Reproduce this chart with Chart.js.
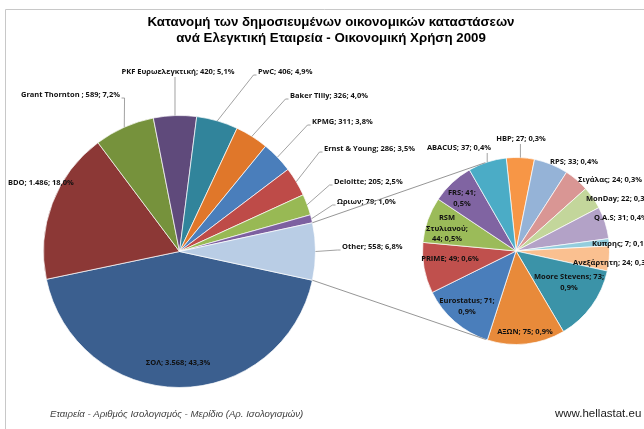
<!DOCTYPE html>
<html>
<head>
<meta charset="utf-8">
<script src="https://cdn.jsdelivr.net/npm/chart.js@4.4.1/dist/chart.umd.min.js"></script>
<style>
html,body{margin:0;padding:0;background:#fff;}
#wrap{position:relative;width:644px;height:429px;overflow:hidden;background:#fff;}
#wrap canvas{position:absolute;left:0;top:0;}
</style>
</head>
<body>
<div id="wrap"><canvas id="c1" width="644" height="429"></canvas><canvas id="c2" width="644" height="429"></canvas></div>
<script>
// ---------- DATA ----------
const titleLines = ['Κατανομή των δημοσιευμένων οικονομικών καταστάσεων', 'ανά Ελεγκτική Εταιρεία - Οικονομική Χρήση 2009'];
const footerText = 'Εταιρεία - Αριθμός Ισολογισμός - Μερίδιο (Αρ. Ισολογισμών)';
const sourceText = 'www.hellastat.eu';

const mainCategories = ['ΣΟΛ', 'BDO', 'Grant Thornton ', 'PKF Ευρωελεγκτική', 'PwC', 'Baker Tilly', 'KPMG', 'Ernst & Young', 'Deloitte', 'Ωριων', 'Other'];
const mainValues = [3568, 1486, 589, 420, 406, 326, 311, 286, 205, 79, 558];

const otherCategories = ['HBP', 'RPS', 'Σιγάλας', 'MonDay', 'Q.A.S', 'Κυπρης', 'Ανεξάρτητη', 'Moore Stevens', 'ΑΞΩΝ', 'Eurostatus', 'PRIME', 'RSM Στυλιανού', 'FRS', 'ABACUS'];
const otherValues = [27, 33, 24, 22, 31, 7, 24, 73, 75, 71, 49, 44, 41, 37];

// ---------- STYLES ----------
const mainColors = ['#3b5f8f', '#8c3836', '#76923c', '#5f4a7b', '#31849b', '#e0772a', '#4a7ebb', '#be4b48', '#98b954', '#7d60a0', '#b9cde5'];
const otherColors = ['#f79646', '#95b3d7', '#d99694', '#c3d69b', '#b3a2c7', '#93cddd', '#fac090', '#3b93a8', '#e88a3a', '#4a7ebb', '#c0504d', '#9bbb59', '#8064a2', '#4bacc6'];

// label layout (x, y of first line centre; align; wrap mode; leader type)
const mainLabelLayout = [
  {x:178, y:363, align:'center'},
  {x:8,   y:183, align:'left'},
  {x:21,  y:95,  align:'left', leader:'right'},
  {x:178, y:72,  align:'center', leader:'bottom'},
  {x:258, y:72,  align:'left', leader:'left'},
  {x:290, y:96,  align:'left', leader:'left'},
  {x:312, y:122, align:'left', leader:'left'},
  {x:324, y:149, align:'left', leader:'left'},
  {x:334, y:182, align:'left', leader:'left'},
  {x:337, y:202, align:'left', leader:'left'},
  {x:342, y:247, align:'left', leader:'left'}
];
const otherLabelLayout = [
  {x:521, y:139, align:'center', leader:'bottom'},
  {x:550, y:162, align:'left'},
  {x:578, y:180, align:'left'},
  {x:586, y:199, align:'left'},
  {x:594, y:218, align:'left'},
  {x:592, y:244, align:'left'},
  {x:573, y:263, align:'left'},
  {x:569, y:277, align:'center', wrap:'v'},
  {x:525, y:332, align:'center'},
  {x:467, y:301, align:'center', wrap:'v'},
  {x:450, y:259, align:'center'},
  {x:447, y:218, align:'center', wrap:'nv'},
  {x:462, y:193, align:'center', wrap:'v'},
  {x:459, y:148, align:'center', leader:'bottom'}
];

const LABEL_FONT = 'bold 7.5px "Open Sans", sans-serif';
const LINE_H = 10.5;
const grandTotal = mainValues.reduce((a, b) => a + b, 0);

function fmtNum(v) { return v.toLocaleString('el-GR'); }
function fmtPct(v) { return (v / grandTotal * 100).toFixed(1).replace('.', ','); }

function labelLines(name, value, wrap) {
  const v = fmtNum(value), p = fmtPct(value) + '%';
  if (wrap === 'v') return [name + '; ' + v + ';', p];
  if (wrap === 'nv') {
    const parts = name.split(' ');
    return [parts[0], parts.slice(1).join(' ') + ';', v + '; ' + p];
  }
  return [name + '; ' + v + '; ' + p];
}

function edgePoint(arc) {
  const p = arc.getProps(['x', 'y', 'startAngle', 'endAngle', 'outerRadius'], true);
  const a = (p.startAngle + p.endAngle) / 2;
  return {x: p.x + Math.cos(a) * p.outerRadius, y: p.y + Math.sin(a) * p.outerRadius};
}

function drawLabels(chart, names, values, layout) {
  const ctx = chart.ctx;
  const arcs = chart.getDatasetMeta(0).data;
  ctx.save();
  ctx.font = LABEL_FONT;
  ctx.fillStyle = '#111';
  ctx.textBaseline = 'middle';
  names.forEach((name, i) => {
    const L = layout[i];
    const lines = labelLines(name, values[i], L.wrap);
    ctx.textAlign = L.align;
    let maxW = 0;
    lines.forEach((ln, k) => {
      ctx.fillText(ln, L.x, L.y + k * LINE_H);
      maxW = Math.max(maxW, ctx.measureText(ln).width);
    });
    if (L.leader) {
      const e = edgePoint(arcs[i]);
      ctx.beginPath();
      ctx.strokeStyle = '#8a8a8a';
      ctx.lineWidth = 0.8;
      if (L.leader === 'bottom') {
        ctx.moveTo(e.x, L.y + 5);
        ctx.lineTo(e.x, e.y);
      } else if (L.leader === 'left') {
        const lx = (L.align === 'left' ? L.x : L.x - maxW / 2) - 1.5;
        ctx.moveTo(lx, L.y + 3);
        ctx.lineTo(lx - 3, L.y + 3);
        ctx.lineTo(e.x, e.y);
      } else if (L.leader === 'right') {
        const rx = (L.align === 'left' ? L.x + maxW : L.x + maxW / 2) + 1.5;
        ctx.moveTo(rx, L.y + 3);
        ctx.lineTo(rx + 3, L.y + 3);
        ctx.lineTo(e.x, e.y);
      }
      ctx.stroke();
    }
  });
  ctx.restore();
}

const framePlugin = {
  id: 'frame',
  beforeDraw(chart) {
    const ctx = chart.ctx;
    ctx.save();
    ctx.fillStyle = '#ffffff';
    ctx.fillRect(0, 0, chart.width, chart.height);
    ctx.strokeStyle = '#c8c8c8';
    ctx.lineWidth = 1;
    ctx.beginPath();
    ctx.moveTo(5.5, 429);
    ctx.lineTo(5.5, 9.5);
    ctx.lineTo(644, 9.5);
    ctx.stroke();
    // title
    ctx.fillStyle = '#000';
    ctx.textAlign = 'center';
    ctx.textBaseline = 'middle';
    ctx.font = 'bold 13.3px "Liberation Sans", Arial, sans-serif';
    ctx.fillText(titleLines[0], 331, 22);
    ctx.fillText(titleLines[1], 331, 38);
    // footer
    ctx.textAlign = 'left';
    ctx.font = 'italic 9.6px "Liberation Sans", Arial, sans-serif';
    ctx.fillStyle = '#404040';
    ctx.fillText(footerText, 50, 414);
    ctx.font = '11.5px "Liberation Sans", Arial, sans-serif';
    ctx.fillStyle = '#1a1a1a';
    ctx.fillText(sourceText, 555, 414);
    ctx.restore();
  },
  afterDraw(chart) {
    drawLabels(chart, mainCategories, mainValues, mainLabelLayout);
  }
};

const otherFraction = mainValues[mainValues.length - 1] / grandTotal;

const chart1 = new Chart(document.getElementById('c1'), {
  type: 'pie',
  data: {
    labels: mainCategories,
    datasets: [{data: mainValues, backgroundColor: mainColors, borderColor: 'rgba(255,255,255,0.7)', borderWidth: 1}]
  },
  options: {
    responsive: false,
    animation: false,
    rotation: 90 + otherFraction * 180,
    layout: {padding: {left: 43, top: 115, right: 328, bottom: 41}},
    plugins: {legend: {display: false}, tooltip: {enabled: false}, title: {display: false}},
    events: []
  },
  plugins: [framePlugin]
});

const seriesLinesPlugin = {
  id: 'seriesLines',
  afterDraw(chart) {
    drawLabels(chart, otherCategories, otherValues, otherLabelLayout);
    const ctx = chart.ctx;
    const mArcs = chart1.getDatasetMeta(0).data;
    const oArc = mArcs[mArcs.length - 1].getProps(['x', 'y', 'startAngle', 'endAngle', 'outerRadius'], true);
    const c2 = chart.getDatasetMeta(0).data[0].getProps(['x', 'y', 'outerRadius'], true);
    const pts = [oArc.startAngle, oArc.endAngle].map(a => ({x: oArc.x + Math.cos(a) * oArc.outerRadius, y: oArc.y + Math.sin(a) * oArc.outerRadius}));
    ctx.save();
    ctx.strokeStyle = '#8a8a8a';
    ctx.lineWidth = 0.9;
    pts.forEach(P => {
      const dx = P.x - c2.x, dy = P.y - c2.y;
      const d = Math.hypot(dx, dy);
      const th = Math.atan2(dy, dx);
      const al = Math.acos(c2.outerRadius / d);
      const cands = [th + al, th - al].map(a => ({x: c2.x + Math.cos(a) * c2.outerRadius, y: c2.y + Math.sin(a) * c2.outerRadius}));
      const T = (P.y < oArc.y) ? (cands[0].y < cands[1].y ? cands[0] : cands[1]) : (cands[0].y > cands[1].y ? cands[0] : cands[1]);
      ctx.beginPath();
      ctx.moveTo(P.x, P.y);
      ctx.lineTo(T.x, T.y);
      ctx.stroke();
    });
    ctx.restore();
  }
};

const chart2 = new Chart(document.getElementById('c2'), {
  type: 'pie',
  data: {
    labels: otherCategories,
    datasets: [{data: otherValues, backgroundColor: otherColors, borderColor: 'rgba(255,255,255,0.7)', borderWidth: 1}]
  },
  options: {
    responsive: false,
    animation: false,
    rotation: -6,
    layout: {padding: {left: 422, top: 157, right: 34, bottom: 84}},
    plugins: {legend: {display: false}, tooltip: {enabled: false}, title: {display: false}},
    events: []
  },
  plugins: [seriesLinesPlugin]
});
</script>
</body>
</html>
